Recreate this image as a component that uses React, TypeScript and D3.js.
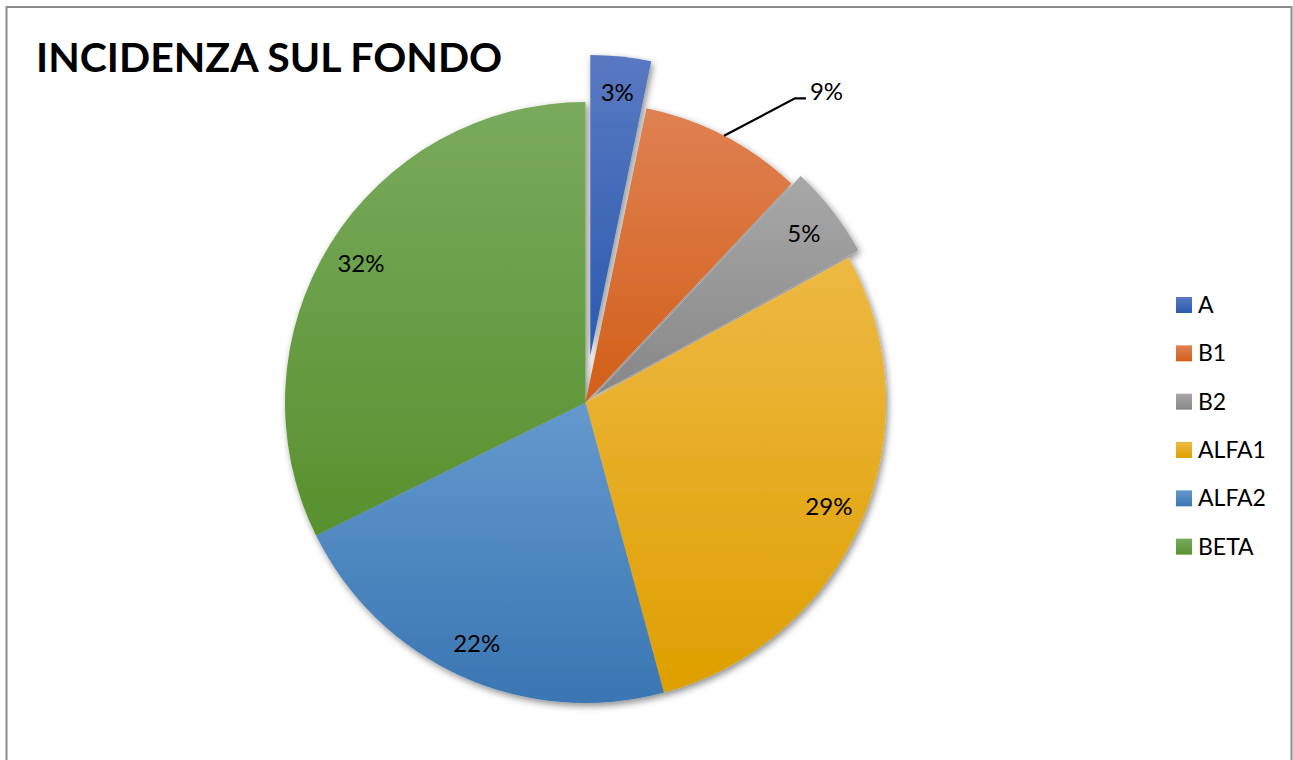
import React from 'react';
import * as d3 from 'd3';

const title = 'INCIDENZA SUL FONDO';
const categories = ['A', 'B1', 'B2', 'ALFA1', 'ALFA2', 'BETA'];
const values = [3.25, 8.75, 5.0, 28.8, 21.9, 32.3];
const gradTop = ['#5979C1', '#DF8152', '#A8A8A8', '#EEB944', '#6499CE', '#79AA5D'];
const gradBottom = ['#2B5BB0', '#D25F18', '#878787', '#DE9F00', '#3A76B2', '#58912E'];
const explode = [0.157, 0, 0.04, 0, 0, 0];

const W = 1293;
const H = 760;
const cx = 585.5;
const cy = 402.5;
const R = 300.5;
const labelFactor = 0.88;
const FONT = 'Lato, Carlito, Calibri, sans-serif';

export default function App() {
  const pie = d3.pie<number>().sort(null).value((d) => d);
  const arcs = pie(values);
  const arc = d3.arc<d3.PieArcDatum<number>>().innerRadius(0).outerRadius(R);
  const total = d3.sum(values);
  const fmt = (v: number) => `${Math.round((v / total) * 100)}%`;

  const offset = (a: d3.PieArcDatum<number>, i: number) => {
    const mid = (a.startAngle + a.endAngle) / 2;
    return [Math.sin(mid) * explode[i] * R, -Math.cos(mid) * explode[i] * R];
  };

  const legendX = 1176;
  const legendY0 = 305;
  const legendStep = 48.33;
  const sq = 16;

  return (
    <svg
      width={W}
      height={H}
      style={{ position: 'absolute', left: 0, top: 0, background: '#fff' }}
    >
      <defs>
        {categories.map((c, i) => (
          <linearGradient key={c} id={`g${i}`} x1="0" y1="0" x2="0" y2="1">
            <stop offset="0%" stopColor={gradTop[i]} />
            <stop offset="100%" stopColor={gradBottom[i]} />
          </linearGradient>
        ))}
        <filter id="shadow" x="-20%" y="-20%" width="140%" height="140%">
          <feDropShadow dx="2" dy="3" stdDeviation="3.5" floodColor="#000" floodOpacity="0.45" />
        </filter>
      </defs>
      <rect x={6.5} y={7} width={1285} height={800} fill="#fff" stroke="#8c8c8c" strokeWidth={2} />
      <text x={36} y={72} fontFamily={FONT} fontWeight="bold" fontSize={41} fill="#000">
        {title}
      </text>
      <g transform={`translate(${cx},${cy})`}>
        <g filter="url(#shadow)">
          {arcs.map((a, i) => {
            const [dx, dy] = offset(a, i);
            return (
              <path
                key={categories[i]}
                d={arc(a) || ''}
                transform={`translate(${dx},${dy})`}
                fill={`url(#g${i})`}
              />
            );
          })}
        </g>
        {arcs.map((a, i) => {
          const [dx, dy] = offset(a, i);
          const mid = (a.startAngle + a.endAngle) / 2;
          if (categories[i] === 'B1') {
            const p0 = [Math.sin(mid) * R, -Math.cos(mid) * R];
            const elbowAng = (34.55 * Math.PI) / 180;
            const p1 = [Math.sin(elbowAng) * R * 1.229, -Math.cos(elbowAng) * R * 1.229];
            const p2 = [p1[0] + 11, p1[1]];
            return (
              <g key={categories[i]}>
                <polyline
                  points={`${p0[0]},${p0[1]} ${p1[0]},${p1[1]} ${p2[0]},${p2[1]}`}
                  fill="none"
                  stroke="#000"
                  strokeWidth={2.2}
                />
                <text
                  x={p2[0] + 4}
                  y={p1[1] - 7 + 8.6}
                  fontFamily={FONT}
                  fontSize={24}
                  fill="#000"
                >
                  {fmt(values[i])}
                </text>
              </g>
            );
          }
          const lx = dx + Math.sin(mid) * R * labelFactor;
          const ly = dy - Math.cos(mid) * R * labelFactor;
          return (
            <text
              key={categories[i]}
              x={lx}
              y={ly + 8.6}
              textAnchor="middle"
              fontFamily={FONT}
              fontSize={24}
              fill="#000"
            >
              {fmt(values[i])}
            </text>
          );
        })}
      </g>
      <g>
        {categories.map((c, i) => {
          const y = legendY0 + i * legendStep;
          return (
            <g key={c}>
              <rect x={legendX} y={y - sq / 2} width={sq} height={sq} fill={`url(#g${i})`} />
              <text x={legendX + 22} y={y + 8} fontFamily={FONT} fontSize={23} fill="#000">
                {c}
              </text>
            </g>
          );
        })}
      </g>
    </svg>
  );
}
